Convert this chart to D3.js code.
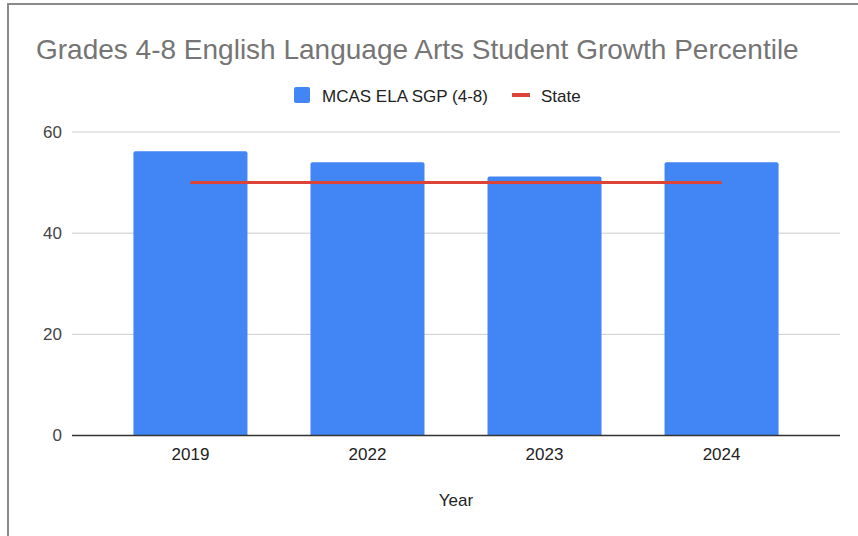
<!DOCTYPE html>
<html><head><meta charset="utf-8">
<script src="https://cdn.jsdelivr.net/npm/d3@7"></script>
<style>html,body{margin:0;padding:0;background:#fff;overflow:hidden}</style>
</head><body>
<svg id="chart" width="858" height="536"></svg>
<script>
const years = ["2019", "2022", "2023", "2024"];
const sgpValues = [56.2, 54.0, 51.2, 54.0];
const stateValues = [50, 50, 50, 50];
const yTicks = [0, 20, 40, 60];
const titleText = "Grades 4-8 English Language Arts Student Growth Percentile";
const seriesNames = ["MCAS ELA SGP (4-8)", "State"];

(function () {
const svg = d3.select("#chart");
const font = "Arial, 'Liberation Sans', sans-serif";
const fs = 17;

// outer border
svg.append("rect").attr("x", 8).attr("y", 4).attr("width", 858).attr("height", 540)
  .attr("fill", "#fff").attr("stroke", "#8a8a8a").attr("stroke-width", 2);

const pLeft = 72, pRight = 840, pTop = 132, pBottom = 435.5;
const x = d3.scaleBand().domain(years).range([pLeft, pRight]).paddingInner(0.356).paddingOuter(0.347);
const y = d3.scaleLinear().domain([0, 60]).range([pBottom, pTop]);

// title
svg.append("text").attr("x", 36).attr("y", 59).attr("font-family", font)
  .attr("font-size", 28).attr("fill", "#757575").text(titleText);

// gridlines
svg.append("g").selectAll("line").data(yTicks.filter(d => d !== 0)).join("line")
  .attr("x1", pLeft).attr("x2", pRight).attr("y1", d => y(d)).attr("y2", d => y(d))
  .attr("stroke", "#cccccc").attr("stroke-width", 1);

// y axis labels
const yAxis = d3.axisLeft(y).tickValues(yTicks).tickSize(0).tickPadding(10);
const gy = svg.append("g").attr("transform", `translate(${pLeft},0)`).call(yAxis);
gy.select(".domain").remove();
gy.selectAll("text").attr("font-family", font).attr("font-size", fs).attr("fill", "#444");

// bars
const r = 2;
svg.append("g").selectAll("path").data(years).join("path")
  .attr("d", (d, i) => {
    const x0 = x(d), w = x.bandwidth(), y0 = y(sgpValues[i]), yb = y(0);
    return `M${x0},${yb}V${y0 + r}Q${x0},${y0} ${x0 + r},${y0}H${x0 + w - r}Q${x0 + w},${y0} ${x0 + w},${y0 + r}V${yb}Z`;
  })
  .attr("fill", "#4285f4");

// state line
const line = d3.line().x((d, i) => x(years[i]) + x.bandwidth() / 2).y(d => y(d));
svg.append("path").datum(stateValues).attr("d", line)
  .attr("fill", "none").attr("stroke", "#db4437").attr("stroke-width", 3);

// zero axis
svg.append("line").attr("x1", pLeft).attr("x2", pRight).attr("y1", y(0)).attr("y2", y(0))
  .attr("stroke", "#333").attr("stroke-width", 1.5);

// x axis labels
const xAxis = d3.axisBottom(x).tickSize(0).tickPadding(12);
const gx = svg.append("g").attr("transform", `translate(0,${pBottom})`).call(xAxis);
gx.select(".domain").remove();
gx.selectAll("text").attr("font-family", font).attr("font-size", fs).attr("fill", "#222");

// x axis title
svg.append("text").attr("x", 456).attr("y", 506).attr("text-anchor", "middle")
  .attr("font-family", font).attr("font-size", fs).attr("fill", "#222").text("Year");

// legend
const lg = svg.append("g");
lg.append("rect").attr("x", 294).attr("y", 87).attr("width", 16).attr("height", 16).attr("rx", 2).attr("fill", "#4285f4");
lg.append("text").attr("x", 322).attr("y", 102).attr("font-family", font).attr("font-size", fs).attr("fill", "#222").text(seriesNames[0]);
lg.append("rect").attr("x", 512).attr("y", 93).attr("width", 18).attr("height", 4).attr("fill", "#db4437");
lg.append("text").attr("x", 541).attr("y", 102).attr("font-family", font).attr("font-size", fs).attr("fill", "#222").text(seriesNames[1]);
})();
</script>
</body></html>
